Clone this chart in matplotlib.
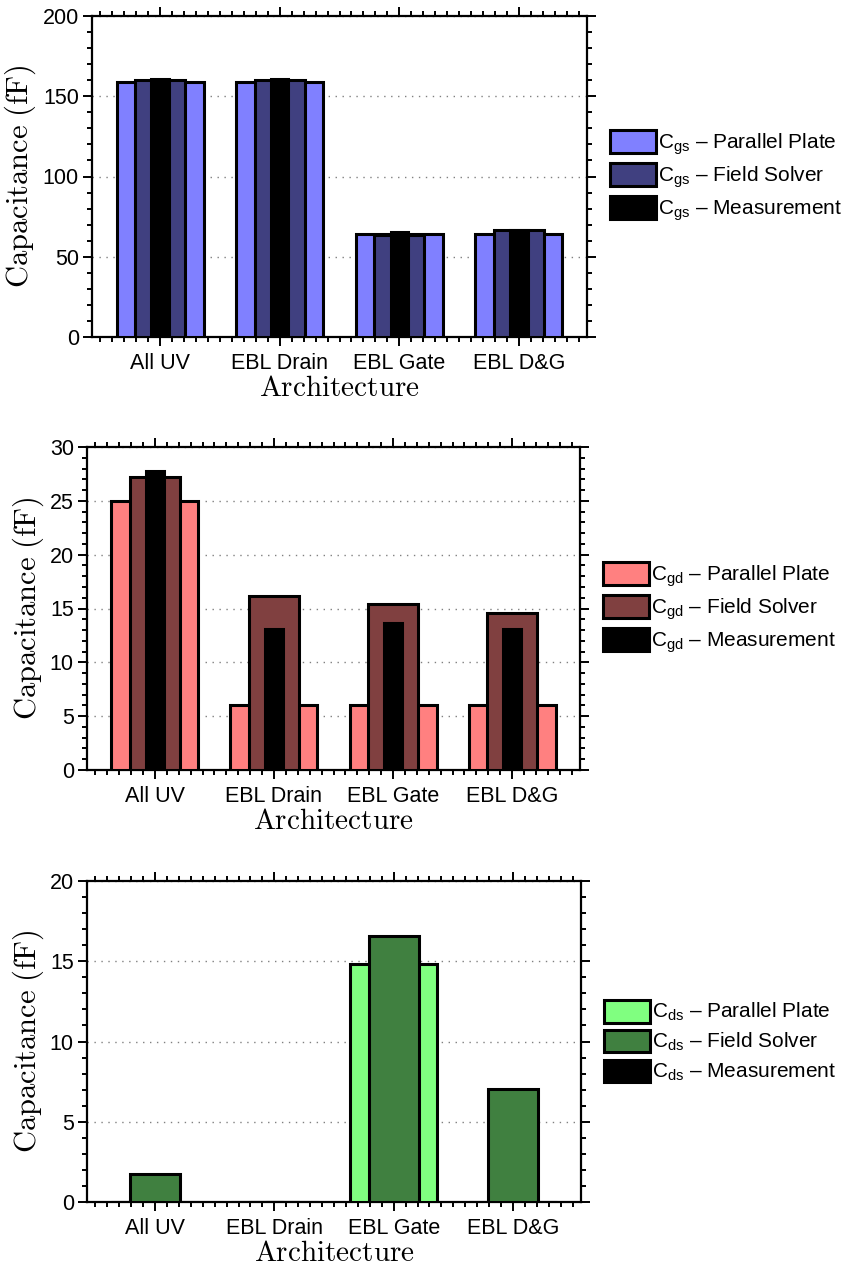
import numpy as np
import matplotlib
matplotlib.use("Agg")
import matplotlib.pyplot as plt
from matplotlib.ticker import MultipleLocator, FixedLocator

plt.rcParams['font.family'] = ['Liberation Sans', 'DejaVu Sans']
plt.rcParams['mathtext.fontset'] = 'cm'

categories = ['All UV', 'EBL Drain', 'EBL Gate', 'EBL D&G']

cgs_pp = [159, 159, 64, 64]
cgs_fs = [160, 160, 63.4, 66.6]
cgs_meas = [160.6, 160.6, 65.2, 66.6]

cgd_pp = [25.0, 6.0, 6.0, 6.0]
cgd_fs = [27.2, 16.2, 15.4, 14.6]
cgd_meas = [27.8, 13.05, 13.65, 13.05]

cds_pp = [0.03, 0.03, 14.8, 0.03]
cds_fs = [1.75, 0.03, 16.6, 7.05]
cds_meas = [0.03, 0.03, 0.03, 0.03]

panels = [
    ('gs', cgs_pp, cgs_fs, cgs_meas, '#8080ff', '#404080', 200, 50, 10),
    ('gd', cgd_pp, cgd_fs, cgd_meas, '#ff8080', '#804040', 30, 5, 1),
    ('ds', cds_pp, cds_fs, cds_meas, '#80ff80', '#408040', 20, 5, 1),
]

# axes boxes in pixels: left, right, top, bottom
boxes = [(92, 587, 16, 337), (87, 580, 447, 770), (87, 581, 881, 1202)]

W, H = 841, 1268
fig = plt.figure(figsize=(W / 100, H / 100), dpi=100)

x = np.arange(len(categories))
widths = [0.73, 0.42, 0.145]

for (sub, pp, fs, meas, c_pp, c_fs, ymax, ymaj, ymin), (l, r, t, b) in zip(panels, boxes):
    ax = fig.add_axes([l / W, 1 - b / H, (r - l) / W, (b - t) / H])
    ax.bar(x, pp, width=widths[0], color=c_pp, edgecolor='k', linewidth=2.2, zorder=3,
           label=r'C$\mathregular{_{%s}}$ – Parallel Plate' % sub)
    ax.bar(x, fs, width=widths[1], color=c_fs, edgecolor='k', linewidth=2.2, zorder=3,
           label=r'C$\mathregular{_{%s}}$ – Field Solver' % sub)
    ax.bar(x, meas, width=widths[2], color='k', edgecolor='k', linewidth=2.2, zorder=3,
           label=r'C$\mathregular{_{%s}}$ – Measurement' % sub)

    ax.set_xlim(-0.57, 3.57)
    ax.set_ylim(0, ymax)
    ax.set_xticks(x)
    ax.set_xticklabels(categories)
    ax.xaxis.set_minor_locator(FixedLocator(np.arange(-0.5, 3.51, 0.1)))
    ax.yaxis.set_major_locator(MultipleLocator(ymaj))
    ax.yaxis.set_minor_locator(MultipleLocator(ymin))
    ax.tick_params(axis='both', which='both', direction='out', top=True, right=True,
                   labelsize=15.5, width=1.4)
    ax.tick_params(which='major', length=6.5)
    ax.tick_params(axis='x', which='major', pad=5)
    ax.tick_params(axis='y', which='major', pad=3)
    ax.tick_params(which='minor', length=3.5)
    for s in ax.spines.values():
        s.set_linewidth(1.6)
    ax.grid(axis='y', which='major', linestyle=(0, (1, 4)), color='gray', linewidth=1, zorder=0)

    ax.set_ylabel(r'$\mathrm{Capacitance\ (fF)}$', fontsize=22, labelpad=3)
    ax.set_xlabel(r'$\mathrm{Architecture}$', fontsize=21, labelpad=0)

    ax.legend(loc='center left', bbox_to_anchor=(1 + 23 / (r - l), 0.5), frameon=False,
              fontsize=15, borderaxespad=0, borderpad=0, handlelength=2.2,
              handleheight=1.3, handletextpad=0.12, labelspacing=0.3)

fig.savefig('out.png', dpi=100)
